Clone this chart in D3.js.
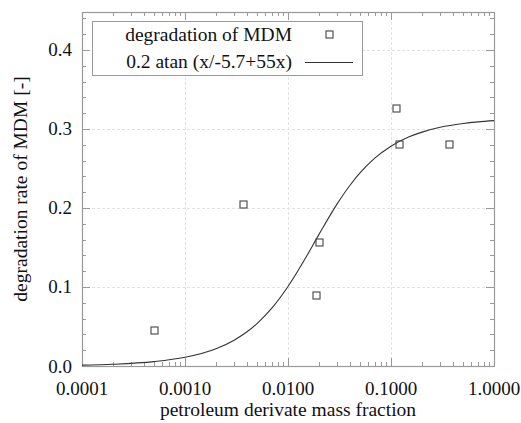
<!DOCTYPE html>
<html><head><meta charset="utf-8">
<script src="https://cdn.jsdelivr.net/npm/d3@7"></script>
</head><body style="margin:0;background:#fff">
<svg id="c" width="521" height="423"></svg>
<script>
// measured points
const pointX = [0.0005, 0.00366, 0.0201, 0.0187, 0.111, 0.1205, 0.366];
const pointY = [0.045, 0.205, 0.157, 0.090, 0.327, 0.281, 0.281];
// fitted curve
const curveX = [0.0001,0.0002,0.0005,0.001,0.002,0.003,0.004,0.005,0.007,0.01,0.015,0.02,0.03,0.04,0.05,0.07,0.1,0.15,0.2,0.3,0.5,0.7,1.0];
const curveY = [0.0011,0.0022,0.0055,0.011,0.0219,0.0327,0.0433,0.0537,0.0735,0.1006,0.138,0.1666,0.2052,0.2288,0.2444,0.2634,0.2782,0.2900,0.2960,0.3021,0.3069,0.3090,0.3105];
const xTicks = [0.0001,0.001,0.01,0.1,1];
const xTickLabels = ["0.0001","0.0010","0.0100","0.1000","1.0000"];
const yTicks = [0,0.1,0.2,0.3,0.4];
const yTickLabels = ["0.0","0.1","0.2","0.3","0.4"];
const legendLabels = ["degradation of MDM","0.2 atan (x/-5.7+55x)"];
const xTitle = "petroleum derivate mass fraction";
const yTitle = "degradation rate of MDM [-]";

const FONT = "Liberation Serif";
const L=82,R=494,T=12,B=366;
const svg=d3.select("#c");
const x=d3.scaleLog().domain([0.0001,1]).range([L,R]);
const y=d3.scaleLinear().domain([0,0.448]).range([B,T]);
const frame="#999";

// grid
const g=svg.append("g");
g.selectAll(".gx").data(xTicks.slice(1,-1)).join("line")
 .attr("x1",d=>Math.round(x(d))+0.5).attr("x2",d=>Math.round(x(d))+0.5).attr("y1",T).attr("y2",B)
 .attr("stroke","#e2e2e2").attr("stroke-dasharray","3,2").attr("stroke-width",1);
g.selectAll(".gy").data(yTicks.slice(1)).join("line")
 .attr("x1",L).attr("x2",R).attr("y1",d=>Math.round(y(d))+0.5).attr("y2",d=>Math.round(y(d))+0.5)
 .attr("stroke","#e2e2e2").attr("stroke-dasharray","3,2").attr("stroke-width",1);

// minor ticks
const minorX=[];
for(let e=-4;e<0;e++){for(let k=2;k<=9;k++)minorX.push(k*Math.pow(10,e));}
const minorY=d3.range(0,0.45,0.02).map(v=>+v.toFixed(2)).filter(v=>Math.abs(v*10-Math.round(v*10))>1e-6);

const axes=svg.append("g").attr("stroke",frame).attr("stroke-width",1);
function px(v){return Math.round(x(v))+0.5;}
function py(v){return Math.round(y(v))+0.5;}
xTicks.forEach(v=>{
  axes.append("line").attr("x1",px(v)).attr("x2",px(v)).attr("y1",B).attr("y2",B-8);
  axes.append("line").attr("x1",px(v)).attr("x2",px(v)).attr("y1",T).attr("y2",T+8);
});
minorX.forEach(v=>{
  axes.append("line").attr("x1",px(v)).attr("x2",px(v)).attr("y1",B).attr("y2",B-4);
  axes.append("line").attr("x1",px(v)).attr("x2",px(v)).attr("y1",T).attr("y2",T+4);
});
yTicks.forEach(v=>{
  axes.append("line").attr("y1",py(v)).attr("y2",py(v)).attr("x1",L).attr("x2",L+8);
  axes.append("line").attr("y1",py(v)).attr("y2",py(v)).attr("x1",R).attr("x2",R-8);
});
minorY.forEach(v=>{
  axes.append("line").attr("y1",py(v)).attr("y2",py(v)).attr("x1",L).attr("x2",L+4);
  axes.append("line").attr("y1",py(v)).attr("y2",py(v)).attr("x1",R).attr("x2",R-4);
});
svg.append("rect").attr("x",L+0.5).attr("y",T+0.5).attr("width",R-L).attr("height",B-T)
 .attr("fill","none").attr("stroke",frame).attr("stroke-width",1.2);

const txt="#111";
function label(parent,tx,ty,str,anchor,size,rot){
  return parent.append("text")
    .attr("transform",`translate(${tx},${ty})${rot?` rotate(${rot})`:""}`)
    .attr("font-family",FONT).attr("font-size",size).attr("fill",txt)
    .attr("text-anchor",anchor).text(str);
}
xTicks.forEach((v,i)=>label(svg,x(v),395,xTickLabels[i],"middle",19));
yTicks.forEach((v,i)=>label(svg,72,y(v)+6.5,yTickLabels[i],"end",19));
label(svg,(L+R)/2,416,xTitle,"middle",19.5);
label(svg,27,(T+B)/2,yTitle,"middle",19.5,-90);

// curve
const line=d3.line().x((d,i)=>x(curveX[i])).y((d,i)=>y(curveY[i])).curve(d3.curveMonotoneX);
svg.append("path").datum(curveY).attr("d",line).attr("fill","none").attr("stroke","#333").attr("stroke-width",1.1);

// points
svg.selectAll(".pt").data(pointY).join("rect")
 .attr("x",(d,i)=>Math.round(x(pointX[i]))-3.5+0.5).attr("y",d=>Math.round(y(d))-3.5+0.5)
 .attr("width",7).attr("height",7).attr("fill","none").attr("stroke","#444").attr("stroke-width",1.1);

// legend
const lg=svg.append("g");
lg.append("rect").attr("x",92.5).attr("y",21.5).attr("width",270).attr("height",54)
 .attr("fill","#fff").attr("stroke",frame).attr("stroke-width",1);
label(lg,292,41,legendLabels[0],"end",19.5);
label(lg,292,68,legendLabels[1],"end",19.5);
lg.append("rect").attr("x",326).attr("y",31).attr("width",7).attr("height",7).attr("fill","none").attr("stroke","#444").attr("stroke-width",1.1);
lg.append("line").attr("x1",305).attr("x2",353).attr("y1",62.5).attr("y2",62.5).attr("stroke","#333").attr("stroke-width",1.1);
</script></body></html>
